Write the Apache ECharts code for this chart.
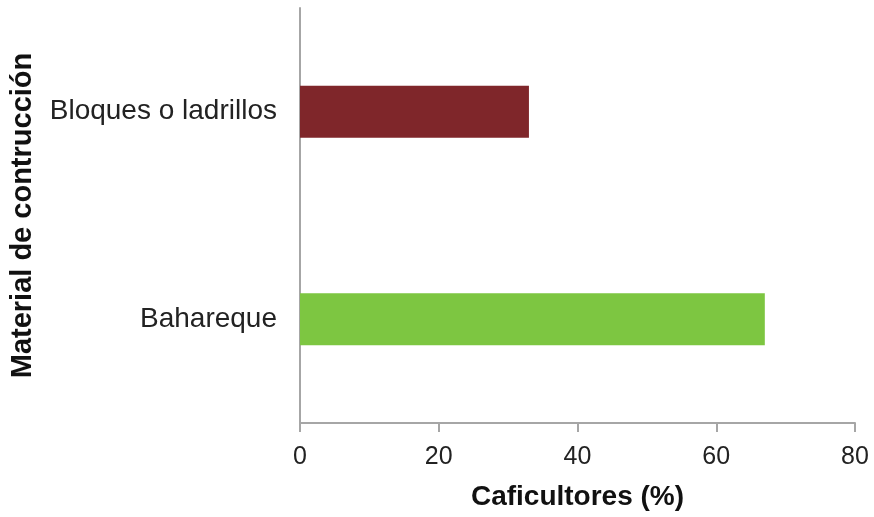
<!DOCTYPE html>
<html>
<head>
<meta charset="utf-8">
<script src="https://cdn.jsdelivr.net/npm/echarts@6/dist/echarts.min.js"></script>
<style>
html,body{margin:0;padding:0;background:#fff;}
#chart{width:874px;height:517px;}
</style>
</head>
<body>
<div id="chart"></div>
<script>
const categories = ['Bahareque', 'Bloques o ladrillos'];
const values = [67, 33];
const barColors = ['#7DC641', '#7F262A'];
const xTicks = [0, 20, 40, 60, 80];
const xTitle = 'Caficultores (%)';
const yTitle = 'Material de contrucción';

const chart = echarts.init(document.getElementById('chart'));
chart.setOption({
  animation: false,
  backgroundColor: '#ffffff',
  grid: {left: 300, right: 19, top: 8, bottom: 94, containLabel: false, outerBoundsMode: 'none'},
  xAxis: {
    type: 'value',
    min: xTicks[0],
    max: xTicks[xTicks.length - 1],
    interval: xTicks[1] - xTicks[0],
    name: xTitle,
    nameLocation: 'middle',
    nameGap: 60,
    nameMoveOverlap: false,
    nameTextStyle: {fontFamily: 'Liberation Sans', fontWeight: 'bold', fontSize: 28, color: '#111'},
    axisLine: {show: true, lineStyle: {color: '#A6A6A6', width: 2}},
    axisTick: {show: true, length: 9, lineStyle: {color: '#A6A6A6', width: 2}},
    splitLine: {show: false},
    axisLabel: {fontFamily: 'Liberation Sans', fontSize: 25, color: '#222', margin: 22}
  },
  yAxis: {
    type: 'category',
    data: categories,
    name: yTitle,
    nameLocation: 'middle',
    nameGap: 263,
    nameMoveOverlap: false,
    nameTextStyle: {fontFamily: 'Liberation Sans', fontWeight: 'bold', fontSize: 29, color: '#111'},
    axisLine: {show: true, lineStyle: {color: '#A6A6A6', width: 2}},
    axisTick: {show: false},
    splitLine: {show: false},
    axisLabel: {fontFamily: 'Liberation Sans', fontSize: 28, color: '#222', margin: 23}
  },
  series: [{
    type: 'bar',
    data: values.map((v, i) => ({value: v, itemStyle: {color: barColors[i]}})),
    barWidth: 52
  }]
});
</script>
</body>
</html>
